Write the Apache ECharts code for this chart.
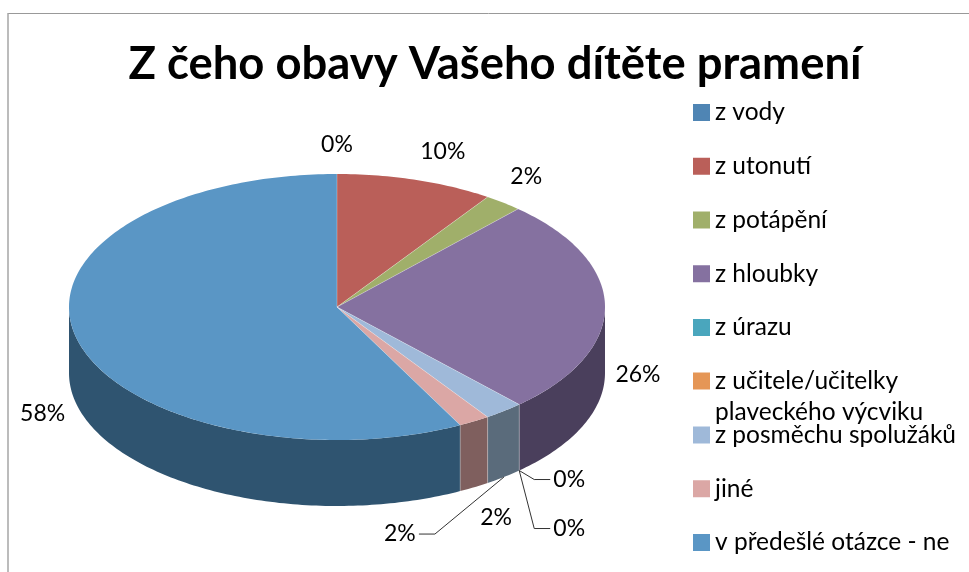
<!DOCTYPE html>
<html><head><meta charset="utf-8">
<style>html,body{margin:0;padding:0;background:#fff}#c{width:969px;height:572px}</style>
<script src="https://cdn.jsdelivr.net/npm/echarts@6/dist/echarts.min.js"></script>
</head><body><div id="c"></div>
<script>
const titleText = 'Z čeho obavy Vašeho dítěte pramení';
const categories = ['z vody','z utonutí','z potápění','z hloubky','z úrazu','z učitele/učitelky\nplaveckého výcviku','z posměchu spolužáků','jiné','v předešlé otázce - ne'];
const values = [0, 9.5, 2.3, 26.3, 0, 0, 2.4, 1.9, 57.6];
const topColors = ['#4F85B4','#BA5F59','#A0AF6A','#8571A0','#4AA6BD','#E59656','#9FB9D9','#DBA7A5','#5A96C5'];
const wallColors = ['#2F5470','#7A4A47','#64703F','#4A3F5C','#2C6878','#8F5C33','#5A6B7B','#7F5F5E','#2F5470'];

// layout of the tilted pie
const cx = 337, cy = 307, rx = 268, ry = 133, depth = 66;
const labelFont = '400 23px Lato';
// label offset from each slice's rim anchor, and leader style (0 none, 1 to the right, 2 to the left)
const labelOffsets = [[0,-29],[27,-28],[23,-26],[33,68],[50,9],[50,58],[-104,57],[22,30],[-34,9]];
const leaderKinds = [0,0,0,0,1,1,2,0,0];

const total = values.reduce((a,b)=>a+b,0);
const D2R = Math.PI/180;
const pt = (deg, dy) => [cx + rx*Math.sin(deg*D2R), cy - ry*Math.cos(deg*D2R) + (dy||0)];
function arc(a, b, dy){ const out=[]; const n=Math.max(2,Math.ceil(Math.abs(b-a)));
  for(let k=0;k<=n;k++) out.push(pt(a+(b-a)*k/n, dy)); return out; }

function makeRender(i){
  return function(params, api){
    const v = api.value(0);
    let s = 0; for(let k=0;k<i;k++) s += values[k];
    const a = s/total*360, b = (s+v)/total*360, mid = (a+b)/2;
    const children = [];
    const edge = 'rgba(255,255,255,0.28)';
    if (v > 0){
      const lo = Math.max(a,90), hi = Math.min(b,270);
      if (hi > lo){
        const top = arc(lo,hi,0), bot = arc(hi,lo,depth);
        children.push({type:'polygon', shape:{points:top.concat(bot)}, style:{fill:wallColors[i]}, z2:1});
        if (a>=90 && a<=270){ const p=pt(a,0); children.push({type:'line',shape:{x1:p[0],y1:p[1],x2:p[0],y2:p[1]+depth},style:{stroke:edge,lineWidth:1},z2:2}); }
      }
      children.push({type:'polygon', shape:{points:[[cx,cy]].concat(arc(a,b,0))}, style:{fill:topColors[i]}, z2:3});
      const e=pt(a,0); children.push({type:'line',shape:{x1:cx,y1:cy,x2:e[0],y2:e[1]},style:{stroke:edge,lineWidth:1},z2:4});
    }
    const wallY = (mid>90&&mid<270) ? depth : 0;
    const anchor = pt(mid, wallY);
    const off = labelOffsets[i];
    const lx = anchor[0]+off[0], ly = anchor[1]+off[1];
    const kind = leaderKinds[i];
    if (kind){
      const side = kind===2 ? 1 : -1;
      const ex = lx + side*19, kx = lx + side*35;
      children.push({type:'polyline', shape:{points:[anchor,[kx,ly],[ex,ly]]}, style:{stroke:'#333',lineWidth:1,fill:null}, z2:5});
    }
    children.push({type:'text', style:{text:Math.round(v/total*100)+'%', x:lx, y:ly, align:'center', verticalAlign:'middle', font:labelFont, fill:'#000'}, z2:6});
    return {type:'group', children};
  };
}

const series = categories.map((name,i)=>({
  type:'custom', name, coordinateSystem:'none', silent:true, animation:false,
  itemStyle:{color:topColors[i]}, data:[[values[i]]], renderItem:makeRender(i)
}));

const legendBase = {orient:'vertical', left:693, padding:0, itemWidth:17, itemHeight:17, icon:'rect', itemGap:26.75, selectedMode:false,
  textStyle:{fontFamily:'Lato',fontSize:24.5,color:'#000',lineHeight:27}};
const chart = echarts.init(document.getElementById('c'), null, {renderer:'canvas'});
chart.setOption({
  animation:false, backgroundColor:'#fff',
  title:{text:titleText,left:490,top:37,textAlign:'center',textStyle:{fontFamily:'Lato',fontSize:45.4,fontWeight:'bold',color:'#000'}},
  tooltip:{show:false},
  legend:[
    Object.assign({},legendBase,{top:99,data:categories.slice(0,5)}),
    Object.assign({},legendBase,{top:334.5,data:[categories[5]],formatter:n=>'\n'+n,textStyle:Object.assign({},legendBase.textStyle,{lineHeight:31})}),
    Object.assign({},legendBase,{top:421.5,data:categories.slice(6)})
  ],
  graphic:[
    {type:'line',silent:true,shape:{x1:8,y1:13.5,x2:969,y2:13.5},style:{stroke:'#999',lineWidth:1}},
    {type:'line',silent:true,shape:{x1:8,y1:13,x2:8,y2:572},style:{stroke:'#A6A6A6',lineWidth:1.5}}
  ],
  series
});
</script></body></html>
